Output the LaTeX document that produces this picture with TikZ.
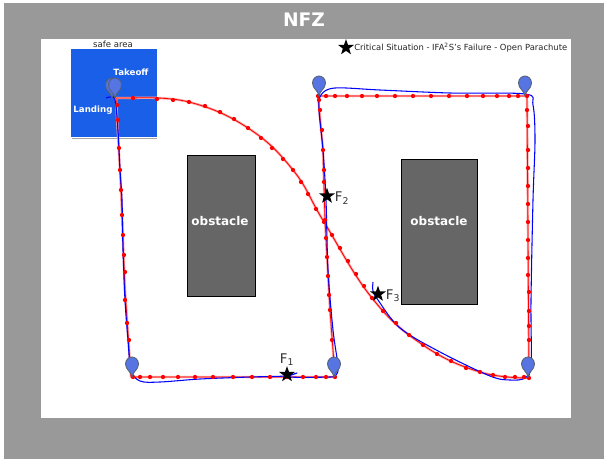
\documentclass[tikz,border=0pt]{standalone}
\usepackage{fontspec}
\setmainfont{DejaVu Sans}
\usetikzlibrary{shapes.geometric}
\usepackage{xcolor}
\definecolor{nfzgray}{HTML}{999999}
\definecolor{safeblue}{HTML}{1A5FE8}
\definecolor{obstgray}{HTML}{666666}
\definecolor{pinblue}{HTML}{5674E2}
\definecolor{pinedge}{HTML}{55606E}
\tikzset{
  obstacle/.style={draw=black,line width=0.5pt,fill=obstgray,inner sep=0pt},
  obstlabel/.style={text=white,font=\bfseries\fontsize{9}{11}\selectfont,inner sep=0pt},
  failstar/.style={star,star points=5,star point ratio=2.5,fill=black,draw=none,minimum size=12.5pt,inner sep=0pt},
  faillabel/.style={font=\fontsize{10}{12}\selectfont,text=black!80,inner sep=0pt},
  redpath/.style={red,line width=0.6pt,line join=round},
  redhalo/.style={red!35,line width=1.8pt,line join=round},
  bluepath/.style={blue,line width=0.8pt,line join=round},
  pinshape/.style={draw=pinedge,line width=0.6pt,fill=pinblue}
}
% waypoint marker, tip at the given point
\newcommand{\waypin}[2]{
  \draw[pinshape] (#1,#2) .. controls (#1-1,#2-6) and (#1-6.5,#2-7) .. (#1-6.5,#2-13)
    .. controls (#1-6.5,#2-17.5) and (#1-3,#2-20) .. (#1,#2-20)
    .. controls (#1+3,#2-20) and (#1+6.5,#2-17.5) .. (#1+6.5,#2-13)
    .. controls (#1+6.5,#2-7) and (#1+1,#2-6) .. cycle;
}
\begin{document}
\begin{tikzpicture}[x=0.75pt,y=-0.75pt]
  \useasboundingbox (0,0) rectangle (604,461);
  \fill[white] (0,0) rectangle (604,461);
  \fill[nfzgray] (4,3) rectangle (604,459);
  \fill[white] (41,39) rectangle (571,418);
  \node[text=white,font=\bfseries\fontsize{14}{16}\selectfont,inner sep=0pt] (title) at (304,20) {NFZ};

  % safe area
  \fill[black!35] (72,137.8) rectangle (157,138.4);
  \node[fill=safeblue,minimum width=64.5pt,minimum height=66pt,inner sep=0pt] (safe) at (114,93) {};
  \node[font=\fontsize{6.4}{8}\selectfont,text=black!85,inner sep=0pt] (safelabel) at (113,44) {safe area};
  \node[text=white,font=\bfseries\fontsize{6.5}{8}\selectfont,inner sep=0pt] (takeoff) at (131,72) {Takeoff};
  \node[text=white,font=\bfseries\fontsize{6.5}{8}\selectfont,inner sep=0pt] (landing) at (93,110) {Landing};

  % obstacles
  \node[obstacle,minimum width=51pt,minimum height=105.75pt] (obstA) at (221,225.5) {};
  \node[obstacle,minimum width=57pt,minimum height=108.75pt] (obstB) at (439,231.5) {};
  \node[obstlabel] (labA) at (220,221) {obstacle};
  \node[obstlabel] (labB) at (439,221) {obstacle};

  % planned route
  \foreach \stl in {redhalo,redpath} {
    \draw[\stl] (116,98) -- (133,98) plot[smooth,tension=0.7] coordinates {
      (133,98) (189,102) (248,128) (293,170) (324,222) (372,298) (423,345) (480,372) (529,378)};
    \draw[\stl] (529,378) -- (527,96) -- (318,96) -- (323,150) -- (325,220) -- (330,310)
      -- (335,377) -- (131,377) -- (125,290) -- (121,190) -- (116,98);
  }

  % flown route
  \draw[bluepath] plot[smooth,tension=0.55] coordinates {
    (106,98) (110,97) (115,100) (118,130) (120,170) (122,200) (123,250) (125,300)
    (128,340) (131,370) (140,381) (160,382) (200,379) (250,377) (285,376) (297,373)
    (290,377) (330,377) (336,375) (338,366) (333,330) (328,270) (326,200) (323,150)
    (319,110) (321,95) (335,88) (380,90) (450,93) (525,94) (533,105) (535,140)
    (533,200) (531,300) (531,365) (525,378) (510,380) (490,376) (440,352) (400,328)
    (378,300) (373,291) (373,282)};

  % sampled points
  \foreach \x/\y in {
    133/98,157/99,173/100,189/102,205/106,220/112,234/119,248/128,261/138,272/148,
    283/159,293/170,301/182,308/194,316/209,324/222,332/235,340/248,348/261,356/274,
    364/286,372/298,383/311,396/323,409/335,423/345,437/354,451/361,466/368,480/372,
    493/375,505/377,515/377,524/377,529/378,
    529/366,529/340,529/326,529/311,529/292,528/275,528/258,528/240,528/222,528/204,
    528/186,528/168,528/150,528/126,527/110,527/96,
    518/96,509/96,497/96,483/96,467/96,449/96,431/96,413/96,395/96,377/96,362/96,
    347/96,335/96,326/96,318/96,
    319/100,320/110,322/130,323/150,324/170,324/182,325/220,326/238,327/257,328/276,
    329/295,330/310,332/340,333/360,335/377,
    326/377,316/377,303/377,287/377,270/377,252/377,233/377,213/377,195/377,178/377,
    163/377,150/377,140/377,133/377,
    131/362,129/340,127/323,125/300,125/272,124/255,123/235,122/215,121/190,120/170,
    119/148,118/120,117/105} {
    \fill[red] (\x,\y) circle (1.6pt);
  }

  % waypoints
  \waypin{112}{98}
  \waypin{115}{98}
  \waypin{319}{96}
  \waypin{525}{96}
  \waypin{132}{377}
  \waypin{334}{377}
  \waypin{528}{377}

  % failures
  \node[failstar] (starF1) at (287,374.5) {};
  \node[failstar] (starF2) at (327,196) {};
  \node[failstar] (starF3) at (378,294) {};
  \node[faillabel] (labF1) at (287,360) {F\textsubscript{1}};
  \node[faillabel] (labF2) at (342,198) {F\textsubscript{2}};
  \node[faillabel] (labF3) at (393,296) {F\textsubscript{3}};

  % legend
  \node[failstar] (legstar) at (346,47.5) {};
  \node[anchor=west,font=\fontsize{6.3}{8}\selectfont,text=black!85,inner sep=0pt] (legtext) at (354,48)
    {Critical Situation - IFA\textsuperscript{2}S's Failure - Open Parachute};
\end{tikzpicture}
\end{document}
